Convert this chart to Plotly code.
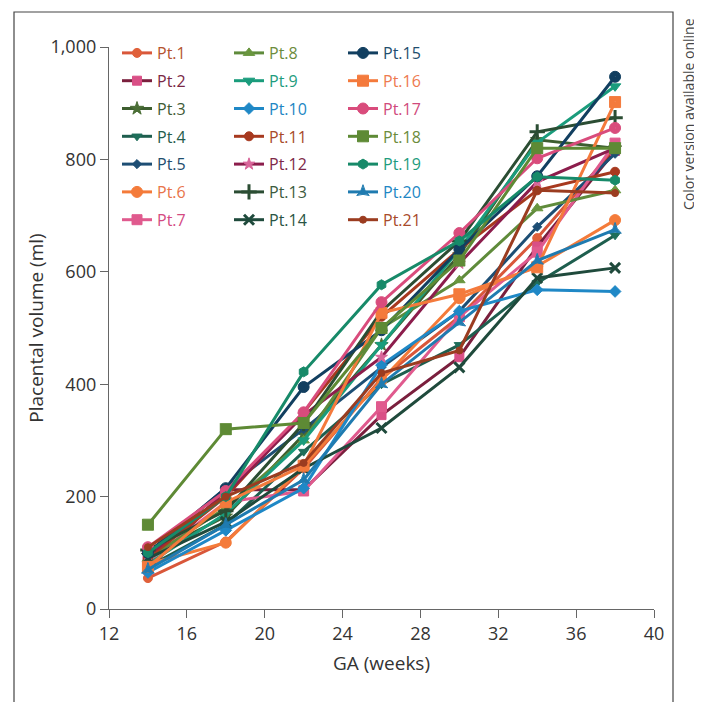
import plotly.graph_objects as go

weeks = [14, 18, 22, 26, 30, 34, 38]

names = ["Pt.1", "Pt.2", "Pt.3", "Pt.4", "Pt.5", "Pt.6", "Pt.7",
         "Pt.8", "Pt.9", "Pt.10", "Pt.11", "Pt.12", "Pt.13", "Pt.14",
         "Pt.15", "Pt.16", "Pt.17", "Pt.18", "Pt.19", "Pt.20", "Pt.21"]

pt1 = [55, 120, 250, 410, 520, 660, 820]
pt2 = [70, 212, 212, 345, 448, 645, 815]
pt3 = [95, 165, 310, 470, 630, 835, 820]
pt4 = [75, 150, 280, 400, 470, 580, 665]
pt5 = [100, 215, 320, 430, 530, 680, 810]
pt6 = [80, 118, 255, 407, 553, 610, 692]
pt7 = [85, 190, 210, 360, 520, 635, 829]
pt8 = [90, 180, 300, 500, 585, 713, 745]
pt9 = [80, 170, 300, 470, 640, 830, 930]
pt10 = [65, 140, 215, 434, 530, 568, 565]
pt11 = [90, 200, 350, 520, 640, 745, 778]
pt12 = [95, 205, 345, 448, 615, 760, 820]
pt13 = [105, 175, 330, 530, 655, 849, 874]
pt14 = [90, 155, 250, 322, 430, 589, 607]
pt15 = [100, 215, 395, 496, 640, 770, 947]
pt16 = [75, 190, 255, 527, 560, 608, 902]
pt17 = [110, 210, 350, 546, 669, 802, 856]
pt18 = [150, 320, 331, 500, 620, 820, 820]
pt19 = [100, 200, 422, 577, 655, 769, 763]
pt20 = [70, 150, 230, 400, 510, 620, 675]
pt21 = [110, 200, 260, 420, 460, 745, 740]

series = [pt1, pt2, pt3, pt4, pt5, pt6, pt7, pt8, pt9, pt10, pt11, pt12,
          pt13, pt14, pt15, pt16, pt17, pt18, pt19, pt20, pt21]

line_colors = ["#D9573A", "#7A1F3D", "#3D5E2F", "#1E5E4E", "#1D4E74", "#F47B3A", "#E05A8E",
               "#5F8B3B", "#1A9C7C", "#1F88C6", "#A7391F", "#8C1D4C", "#2B4D33", "#1F4A3C",
               "#123F60", "#F47A3C", "#D94C7C", "#5E8A35", "#178A69", "#1F7BB0", "#9B3C20"]
marker_colors = ["#E0603A", "#D94F86", "#4A6E35", "#1E6E5A", "#1D4E74", "#F47B3A", "#E05A8E",
                 "#6A963F", "#1A9C7C", "#1F88C6", "#A7391F", "#D9669A", "#2B4D33", "#1F4A3C",
                 "#123F60", "#F47A3C", "#D94C7C", "#5E8A35", "#178A69", "#1F7BB0", "#9B3C20"]
text_colors = ["#B5532F", "#7A2845", "#3F5B35", "#265C4C", "#1F4E6E", "#E8744A", "#D44A82",
               "#6C8C3C", "#1E9C7E", "#2186C4", "#A84A2A", "#7E2848", "#3C5A3E", "#2A5444",
               "#1F4E6E", "#EE7A50", "#D04A7C", "#6C8C3C", "#1E9C7E", "#2186C4", "#A84A2A"]
symbols = ["circle", "square", "star", "triangle-down", "diamond", "circle", "square",
           "triangle-up", "triangle-down", "diamond", "circle", "star", "cross-thin", "x-thin",
           "circle-dot", "square-dot", "circle-dot", "square-x", "hexagon", "star-triangle-up", "circle"]
sizes = [9, 9, 10, 9, 7, 11, 10, 10, 10, 9, 9, 9, 11, 10, 11, 11, 11, 11, 10, 9, 7]

fig = go.Figure()
for i, (nm, ys) in enumerate(zip(names, series)):
    leg = "legend" if i < 7 else ("legend2" if i < 14 else "legend3")
    thin = symbols[i].endswith("-thin")
    fig.add_trace(go.Scatter(
        x=weeks, y=ys, mode="lines+markers",
        name=f'<span style="color:{text_colors[i]}">{nm}</span>',
        legend=leg, legendgroup=nm,
        line=dict(color=line_colors[i], width=3),
        marker=dict(symbol=symbols[i], size=sizes[i], color=marker_colors[i],
                    line=dict(color=line_colors[i] if thin else marker_colors[i], width=3 if thin else 1)),
    ))

# page offset: the browser body adds 8px margin
OFF = 8
FW = FH = 694
# plot area in page pixels: x 109..654, y 47..609
L = 109 - OFF
T = 47 - OFF
R = FW - (654 - OFF)
B = FH - (609 - OFF)
W = 654 - 109
H = 609 - 47

def px_x(p):
    return (p - 109) / W

def px_y(p):
    return (609 - p) / H

legend_common = dict(yanchor="top", xanchor="left", bgcolor="rgba(0,0,0,0)",
                     font=dict(family="Open Sans", size=16), tracegroupgap=4,
                     itemwidth=30)

fig.update_layout(
    width=FW, height=FH,
    margin=dict(l=L, r=R, t=T, b=B),
    paper_bgcolor="white", plot_bgcolor="white",
    font=dict(family="Open Sans", color="#333"),
    showlegend=True,
    legend=dict(x=px_x(117), y=px_y(36), **legend_common),
    legend2=dict(x=px_x(229), y=px_y(36), **legend_common),
    legend3=dict(x=px_x(343), y=px_y(36), **legend_common),
    xaxis=dict(range=[12, 40], tickvals=[12, 16, 20, 24, 28, 32, 36, 40],
               showgrid=False, zeroline=False, showline=True, linecolor="#666", linewidth=1.3,
               ticks="outside", ticklen=8, tickcolor="#666", tickwidth=1.3,
               tickfont=dict(size=18, color="#333"),
               title=dict(text="GA (weeks)", font=dict(size=19, color="#333"), standoff=12)),
    yaxis=dict(range=[0, 1000], tickvals=[0, 200, 400, 600, 800, 1000], tickformat=",",
               showgrid=False, zeroline=False, showline=True, linecolor="#666", linewidth=1.3,
               ticks="outside", ticklen=8, tickcolor="#666", tickwidth=1.3,
               tickfont=dict(size=18, color="#333"),
               title=dict(text="Placental volume (ml)", font=dict(size=19, color="#333"), standoff=1)),
    shapes=[dict(type="rect", xref="paper", yref="paper",
                 x0=px_x(14), x1=px_x(673), y0=px_y(720), y1=px_y(12),
                 line=dict(color="#444", width=1.2), fillcolor="rgba(0,0,0,0)", layer="below")],
    annotations=[dict(text="Color version available online", xref="paper", yref="paper",
                      x=px_x(688), y=px_y(114), textangle=-90, showarrow=False,
                      xanchor="center", yanchor="middle",
                      font=dict(family="Open Sans", size=14, color="#444"))],
)

fig.write_html("out.html")
